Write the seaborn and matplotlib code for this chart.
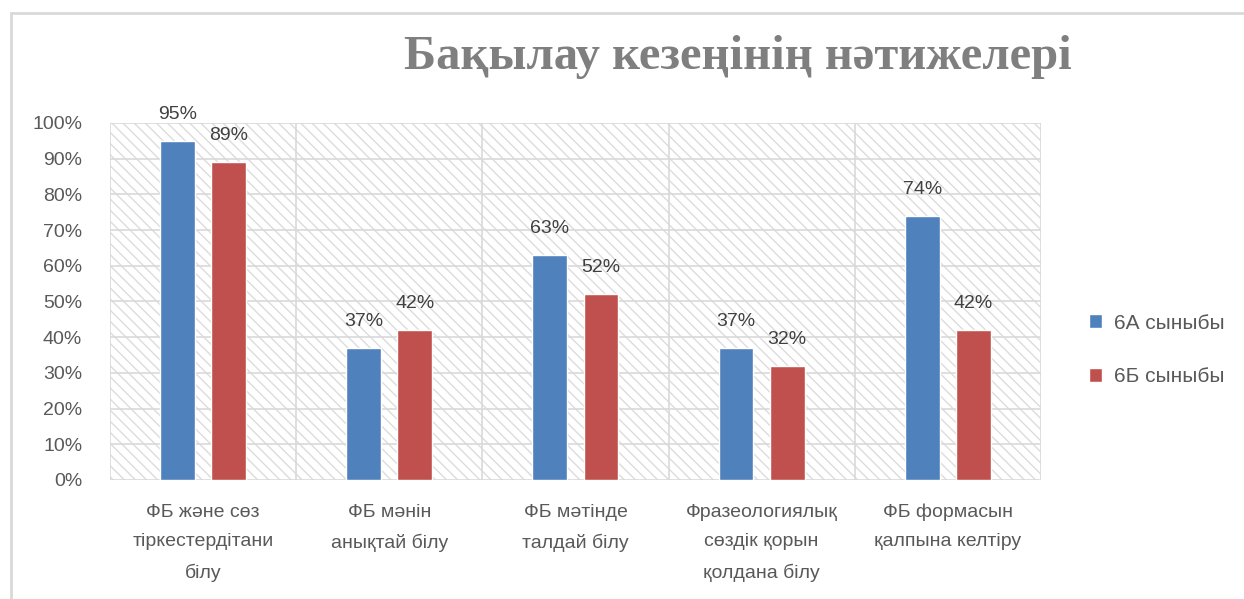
import matplotlib

matplotlib.use("Agg")
import matplotlib.pyplot as plt
import pandas as pd
import seaborn as sns
from matplotlib.patches import Rectangle
from matplotlib.ticker import FuncFormatter, MultipleLocator

# ============================================================
# Data
# ============================================================
CATEGORIES = [
    "ФБ және сөз\nтіркестердітани\nбілу",
    "ФБ мәнін\nанықтай білу",
    "ФБ мәтінде\nталдай білу",
    "Фразеологиялық\nсөздік қорын\nқолдана білу",
    "ФБ формасын\nқалпына келтіру",
]
SERIES = ["6А сыныбы", "6Б сыныбы"]
VALUES_6A = [95, 37, 63, 37, 74]
VALUES_6B = [89, 42, 52, 32, 42]
COLORS = ["#4F81BD", "#C0504D"]
TITLE = "Бақылау кезеңінің нәтижелері"

df = pd.DataFrame({
    "category": CATEGORIES * 2,
    "class": [SERIES[0]] * len(CATEGORIES) + [SERIES[1]] * len(CATEGORIES),
    "value": VALUES_6A + VALUES_6B,
})

# ============================================================
# Style
# ============================================================
sns.set_style("white")
plt.rcParams["font.family"] = ["Liberation Sans", "DejaVu Sans"]
TEXT = "#595959"
GRID = "#d9d9d9"

fig = plt.figure(figsize=(12.44, 5.99), dpi=100)
ax = fig.add_axes([0.0884, 0.1987, 0.7484, 0.596])

# hatched plot area background
ax.patch.set_visible(False)
bg = Rectangle((0, 0), 1, 1, transform=ax.transAxes, facecolor="white",
               edgecolor="#dcdcdc", hatch="\\\\\\", linewidth=0, zorder=-5)
ax.add_patch(bg)

sns.barplot(
    data=df, x="category", y="value", hue="class", palette=COLORS,
    saturation=1, width=0.55, gap=0.32, ax=ax, zorder=3,
)

for cont in ax.containers:
    ax.bar_label(cont, fmt="%d%%", padding=13, fontsize=14, color="#404040")

ax.set_ylim(0, 100)
ax.set_xlim(-0.5, len(CATEGORIES) - 0.5)
ax.yaxis.set_major_locator(MultipleLocator(10))
ax.yaxis.set_major_formatter(FuncFormatter(lambda v, _: f"{v:.0f}%"))

# gridlines: horizontal every 10%, vertical between categories
for y in range(0, 101, 10):
    ax.axhline(y, color=GRID, lw=1.2, zorder=1)
for x in range(len(CATEGORIES) + 1):
    ax.axvline(x - 0.5, color=GRID, lw=1.2, zorder=1)

for s in ax.spines.values():
    s.set_visible(False)

ax.tick_params(axis="y", length=0, pad=20, labelsize=14, labelcolor=TEXT)
ax.tick_params(axis="x", length=0, pad=17, labelsize=14, labelcolor=TEXT)
for lbl in ax.get_xticklabels():
    lbl.set_linespacing(1.95)
ax.set_xlabel("")
ax.set_ylabel("")

handles, labels = ax.get_legend_handles_labels()
ax.get_legend().remove()
fig.legend(
    handles, labels, loc="center left", bbox_to_anchor=(0.86, 0.416),
    frameon=False, fontsize=15, labelcolor=TEXT, handlelength=0.65,
    handleheight=0.65, handletextpad=0.55, labelspacing=1.65,
)

fig.text(0.593, 0.905, TITLE, ha="center", va="center", fontsize=35,
         fontweight="bold", color="#7f7f7f", family="Liberation Serif")

# chart frame
fig.add_artist(Rectangle((11 / 1244, -0.1), 1.1, 1 - 13 / 599 + 0.1,
                         transform=fig.transFigure, fill=False,
                         edgecolor="#d9d9d9", lw=2))

fig.savefig("out.png", dpi=100)
plt.close(fig)
